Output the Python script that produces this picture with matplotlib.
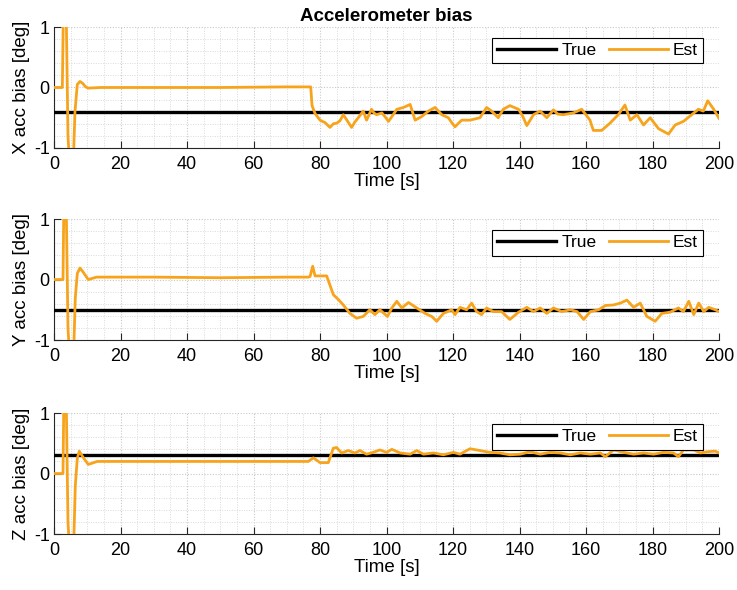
import matplotlib.pyplot as plt
import numpy as np
from matplotlib.ticker import MultipleLocator

plt.rcParams['font.family'] = ['Liberation Sans', 'DejaVu Sans']

# данные
t_true = [0, 200]
true_x = -0.4
true_y = -0.5
true_z = 0.3

# X
tx = [0, 2.5, 3.0, 3.6, 4.2, 5.0, 5.7, 6.3, 7.0, 7.8, 8.6, 9.5, 10.3, 14, 30, 50, 70, 77.2,
      77.6, 78.5, 80.0, 81.5, 83.0, 84.0, 85.0, 86.0, 87.0, 88.2, 89.5, 90.5, 91.5, 93.0, 94.0,
      95.5, 96.2, 97.0, 98.6, 99.5, 100.6, 102.0,
      103.1, 105.1, 107.1, 108.6, 110.6, 112.6, 114.6, 116.6, 118.6, 119.6, 120.6, 122.6, 125.1,
      128.1, 130.1, 131.6, 133.6, 135.1, 137.1, 139.7, 141.0, 142.2, 144.2, 146.2, 148.2, 150.2,
      151.5, 153.2, 156.2, 158.7, 161.2, 162.2, 164.7, 167.2, 169.7, 171.7, 173.3, 175.3, 177.3,
      179.3, 181.8, 184.8, 186.8, 189.3, 191.8, 193.8, 195.3, 196.6, 198.4, 200.0]
ex = [0, 0, 2.0, 1.5, -0.8, -1.6, -1.4, -0.4, 0.05, 0.10, 0.07, 0.01, -0.01, 0.0, 0.0, 0.0, 0.01, 0.01,
      -0.30, -0.43, -0.54, -0.58, -0.66, -0.60, -0.59, -0.55, -0.45, -0.55, -0.66, -0.57, -0.50, -0.39,
      -0.54, -0.36, -0.42, -0.45, -0.42, -0.48, -0.56, -0.45,
      -0.36, -0.33, -0.28, -0.54, -0.48, -0.39, -0.33, -0.45, -0.50, -0.58, -0.65, -0.54, -0.54,
      -0.50, -0.33, -0.39, -0.50, -0.36, -0.30, -0.36, -0.48, -0.63, -0.45, -0.39, -0.50, -0.37,
      -0.44, -0.45, -0.42, -0.36, -0.54, -0.71, -0.71, -0.59, -0.45, -0.29, -0.54, -0.45, -0.62,
      -0.50, -0.68, -0.77, -0.62, -0.56, -0.45, -0.36, -0.39, -0.22, -0.36, -0.51]

# Y
ty = [0, 2.7, 3.1, 3.6, 4.2, 5.0, 5.8, 6.4, 7.0, 7.8, 8.8, 10.3, 12.8, 30, 50, 70, 76.5,
      77.0, 77.8, 78.5, 82.0, 84.0, 85.5, 87.0, 89.0, 91.0, 93.0, 95.0, 96.5, 98.0, 100.3,
      101.6, 103.1, 104.6, 106.6, 109.1, 111.6, 113.6, 115.1, 117.1, 119.6, 120.6, 122.1,
      124.1, 125.6, 127.1, 128.6, 130.1, 132.1, 134.6, 137.1, 139.7, 142.2, 144.2, 146.2,
      148.2, 150.2, 152.7, 155.3, 157.3, 159.3, 161.3, 163.8, 165.8, 168.3, 170.3, 172.3,
      174.3, 176.3, 178.3, 180.8, 182.8, 185.3, 187.8, 189.3, 190.9, 192.4, 193.9, 195.4,
      196.9, 198.9, 200.0]
ey = [0, 0, 2.0, 1.5, -0.8, -1.6, -1.4, -0.3, 0.10, 0.19, 0.12, 0.0, 0.04, 0.04, 0.03, 0.04, 0.04,
      0.05, 0.22, 0.06, 0.06, -0.25, -0.33, -0.42, -0.56, -0.64, -0.61, -0.50, -0.58, -0.50, -0.61,
      -0.47, -0.36, -0.47, -0.38, -0.47, -0.56, -0.61, -0.69, -0.56, -0.50, -0.58, -0.46,
      -0.50, -0.39, -0.53, -0.58, -0.47, -0.53, -0.53, -0.66, -0.54, -0.46, -0.53, -0.47,
      -0.56, -0.47, -0.53, -0.50, -0.53, -0.66, -0.53, -0.50, -0.43, -0.42, -0.39, -0.34,
      -0.46, -0.39, -0.61, -0.69, -0.56, -0.54, -0.47, -0.53, -0.36, -0.58, -0.39, -0.53,
      -0.46, -0.50, -0.53]

# Z
tz = [0, 2.7, 3.1, 3.6, 4.2, 5.0, 5.8, 6.4, 7.0, 7.6, 8.6, 10.3, 13.0, 30, 50, 70, 76.5,
      78.0, 80.0, 82.5, 84.0, 85.0, 86.5, 88.5, 90.5, 92.0, 94.0, 96.0, 98.0, 100.0, 101.6,
      104.1, 107.1, 109.1, 111.1, 114.1, 117.1, 120.1, 122.1, 125.1, 128.1, 131.1, 134.1,
      137.1, 140.2, 143.2, 146.2, 149.2, 152.2, 155.3, 158.3, 161.3, 164.3, 165.8, 168.3,
      171.3, 174.3, 177.3, 180.3, 183.3, 186.3, 187.8, 189.3, 192.4, 194.4, 196.4, 198.9, 200.0]
ez = [0, 0, 2.0, 1.5, -0.8, -1.6, -1.4, -0.2, 0.25, 0.37, 0.28, 0.15, 0.20, 0.20, 0.20, 0.20, 0.20,
      0.26, 0.18, 0.18, 0.42, 0.43, 0.34, 0.38, 0.34, 0.38, 0.32, 0.35, 0.39, 0.35, 0.40,
      0.34, 0.32, 0.38, 0.32, 0.34, 0.31, 0.35, 0.32, 0.41, 0.38, 0.35, 0.34,
      0.31, 0.32, 0.36, 0.32, 0.35, 0.34, 0.31, 0.34, 0.32, 0.34, 0.28, 0.39,
      0.35, 0.32, 0.34, 0.32, 0.35, 0.34, 0.28, 0.39, 0.39, 0.34, 0.36, 0.37, 0.34]

panels = [('X acc bias [deg]', tx, ex, true_x, 0.7492),
          ('Y acc bias [deg]', ty, ey, true_y, 0.4237),
          ('Z acc bias [deg]', tz, ez, true_z, 0.0949)]

est_color = '#F7A41C'

fig = plt.figure(figsize=(7.37, 5.9), dpi=100)

for i, (ylab, t, e, tr, bottom) in enumerate(panels):
    ax = fig.add_axes([0.0733, bottom, 0.9023, 0.205])
    ax.plot(t_true, [tr, tr], color='black', lw=2.4, label='True', zorder=3)
    ax.plot(t, e, color=est_color, lw=2.0, label='Est', zorder=4)
    ax.set_xlim(0, 200)
    ax.set_ylim(-1, 1)
    ax.set_yticks([-1, 0, 1])
    ax.set_yticklabels(['-1', '0', '1'])
    ax.set_xticks(np.arange(0, 201, 20))
    ax.xaxis.set_minor_locator(MultipleLocator(5))
    ax.yaxis.set_minor_locator(MultipleLocator(0.2))
    ax.grid(which='major', color='#c8c8c8', linestyle=(0, (1, 1.5)), linewidth=0.8)
    ax.grid(which='minor', color='#dadada', linestyle=(0, (1, 1.5)), linewidth=0.7)
    ax.set_axisbelow(True)
    ax.tick_params(which='both', direction='in', labelsize=13, color='#262626')
    ax.tick_params(which='minor', length=0)
    ax.tick_params(which='major', length=5)
    ax.tick_params(axis='x', pad=6)
    ax.tick_params(axis='y', pad=3)
    for s in ['top', 'right']:
        ax.spines[s].set_visible(False)
    for s in ['left', 'bottom']:
        ax.spines[s].set_color('#262626')
    ax.set_xlabel('Time [s]', fontsize=13.5, labelpad=0)
    ax.set_ylabel(ylab, fontsize=13.5, labelpad=3)
    leg = ax.legend(loc='upper right', ncol=2, fontsize=12.5, frameon=True, fancybox=False,
                    edgecolor='black', framealpha=1, borderpad=0.3, handlelength=3.4,
                    columnspacing=0.7, handletextpad=0.3, borderaxespad=0,
                    bbox_to_anchor=(0.976, 0.91))
    leg.get_frame().set_linewidth(0.8)
    if i == 0:
        ax.set_title('Accelerometer bias', fontsize=13.5, fontweight='bold', pad=4)

plt.savefig('out.png', dpi=100)
